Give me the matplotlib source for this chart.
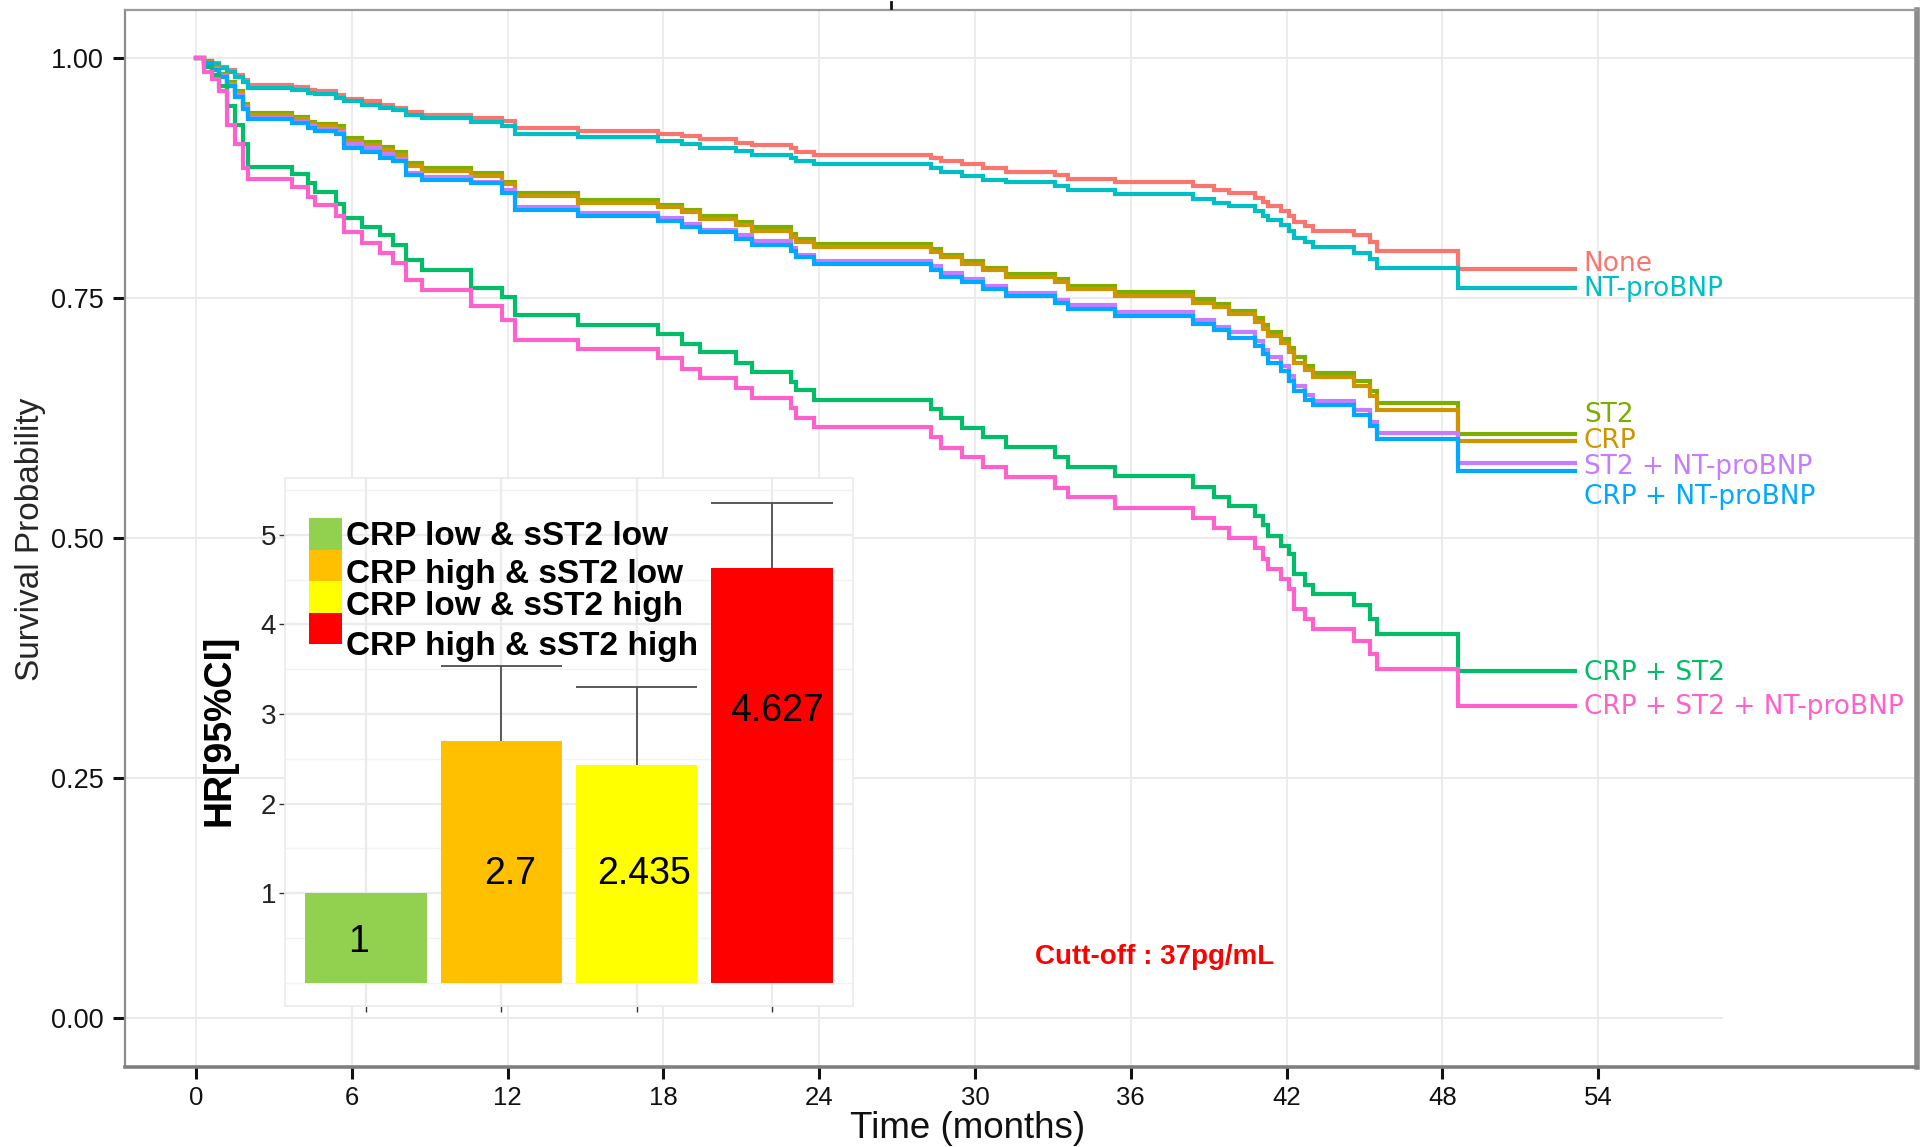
import matplotlib
matplotlib.use("Agg")
import matplotlib.pyplot as plt
from matplotlib.patches import Rectangle
from matplotlib.lines import Line2D

# ---------------------------------------------------------------- data
months = [0, 0.3, 0.6, 0.9, 1.2, 1.5, 1.8, 2.0,
          3.7, 4.3, 4.6, 5.4, 5.7, 6.4, 7.1, 7.6, 8.1, 8.7,
          10.6, 11.8, 12.3, 14.7,
          17.8, 18.7, 19.4, 20.8, 21.4, 22.9, 23.1, 23.8,
          28.3, 28.7, 29.5, 30.3, 31.2, 33.1, 33.6, 35.4,
          38.4, 39.2, 39.8, 40.8, 41.1, 41.3, 41.8, 42.1, 42.3, 42.7, 43.0,
          44.6, 45.2, 45.5, 48.6]
last_month = 53.1

surv_none = [1.0, 0.997, 0.994, 0.990, 0.987, 0.982, 0.977, 0.971,
             0.969, 0.966, 0.965, 0.961, 0.957, 0.955, 0.951, 0.948, 0.943, 0.940,
             0.937, 0.934, 0.927, 0.924,
             0.921, 0.918, 0.915, 0.911, 0.909, 0.906, 0.902, 0.899,
             0.896, 0.892, 0.889, 0.885, 0.881, 0.878, 0.874, 0.870,
             0.866, 0.862, 0.859, 0.854, 0.850, 0.845, 0.840, 0.835, 0.829, 0.825, 0.820,
             0.815, 0.808, 0.799, 0.780]
surv_nt = [1.0, 0.997, 0.993, 0.989, 0.985, 0.980, 0.975, 0.968,
           0.966, 0.963, 0.962, 0.958, 0.955, 0.951, 0.948, 0.945, 0.940, 0.937,
           0.933, 0.929, 0.921, 0.917,
           0.913, 0.910, 0.906, 0.903, 0.899, 0.896, 0.892, 0.889,
           0.885, 0.881, 0.877, 0.873, 0.870, 0.866, 0.862, 0.858,
           0.853, 0.849, 0.845, 0.840, 0.835, 0.831, 0.826, 0.820, 0.812, 0.808, 0.803,
           0.797, 0.790, 0.781, 0.760]
surv_st2 = [1.0, 0.995, 0.990, 0.983, 0.975, 0.965, 0.952, 0.942,
            0.938, 0.933, 0.931, 0.929, 0.916, 0.912, 0.907, 0.902, 0.890, 0.885,
            0.880, 0.871, 0.859, 0.852,
            0.847, 0.841, 0.835, 0.829, 0.824, 0.816, 0.811, 0.806,
            0.801, 0.794, 0.788, 0.781, 0.775, 0.769, 0.762, 0.756,
            0.749, 0.743, 0.736, 0.729, 0.722, 0.714, 0.707, 0.698, 0.688, 0.679, 0.672,
            0.663, 0.653, 0.640, 0.608]
surv_crp = [1.0, 0.995, 0.989, 0.982, 0.973, 0.963, 0.950, 0.940,
            0.936, 0.931, 0.929, 0.926, 0.913, 0.909, 0.904, 0.899, 0.887, 0.882,
            0.877, 0.868, 0.856, 0.849,
            0.844, 0.839, 0.832, 0.826, 0.820, 0.813, 0.808, 0.803,
            0.798, 0.792, 0.785, 0.779, 0.772, 0.766, 0.759, 0.752,
            0.745, 0.740, 0.733, 0.725, 0.717, 0.710, 0.703, 0.693, 0.682, 0.675, 0.667,
            0.658, 0.648, 0.633, 0.601]
surv_st2_nt = [1.0, 0.994, 0.988, 0.981, 0.972, 0.961, 0.948, 0.9375,
               0.933, 0.929, 0.926, 0.923, 0.910, 0.906, 0.900, 0.894, 0.880, 0.876,
               0.871, 0.862, 0.844, 0.838,
               0.833, 0.827, 0.821, 0.815, 0.809, 0.802, 0.795, 0.788,
               0.783, 0.776, 0.769, 0.762, 0.755, 0.748, 0.742, 0.735,
               0.727, 0.720, 0.714, 0.705, 0.696, 0.688, 0.679, 0.668, 0.658, 0.649, 0.642,
               0.633, 0.621, 0.609, 0.578]
surv_crp_nt = [1.0, 0.994, 0.987, 0.980, 0.970, 0.959, 0.946, 0.936,
               0.932, 0.927, 0.924, 0.921, 0.906, 0.902, 0.896, 0.892, 0.878, 0.873,
               0.869, 0.859, 0.841, 0.835,
               0.830, 0.824, 0.818, 0.811, 0.805, 0.799, 0.792, 0.785,
               0.779, 0.772, 0.766, 0.759, 0.752, 0.745, 0.738, 0.731,
               0.723, 0.716, 0.708, 0.700, 0.691, 0.682, 0.674, 0.663, 0.653, 0.644, 0.638,
               0.628, 0.616, 0.603, 0.570]
surv_crp_st2 = [1.0, 0.990, 0.982, 0.970, 0.950, 0.930, 0.910, 0.886,
                0.879, 0.869, 0.860, 0.848, 0.833, 0.824, 0.815, 0.805, 0.789, 0.779,
                0.760, 0.751, 0.732, 0.722,
                0.712, 0.702, 0.693, 0.682, 0.673, 0.662, 0.654, 0.644,
                0.634, 0.625, 0.614, 0.605, 0.595, 0.584, 0.574, 0.564,
                0.553, 0.543, 0.533, 0.523, 0.513, 0.502, 0.492, 0.483, 0.462, 0.451, 0.442,
                0.430, 0.416, 0.400, 0.361]
surv_all = [1.0, 0.985, 0.978, 0.965, 0.930, 0.910, 0.885, 0.874,
            0.865, 0.855, 0.847, 0.835, 0.818, 0.807, 0.797, 0.786, 0.768, 0.758,
            0.741, 0.727, 0.706, 0.697,
            0.687, 0.676, 0.666, 0.656, 0.646, 0.635, 0.625, 0.615,
            0.605, 0.594, 0.584, 0.574, 0.563, 0.552, 0.542, 0.531,
            0.521, 0.510, 0.500, 0.489, 0.478, 0.468, 0.457, 0.447, 0.426, 0.416, 0.405,
            0.393, 0.379, 0.363, 0.325]

curve_names = ["None", "NT-proBNP", "ST2", "CRP", "ST2 + NT-proBNP",
               "CRP + NT-proBNP", "CRP + ST2", "CRP + ST2 + NT-proBNP"]
curve_values = [surv_none, surv_nt, surv_st2, surv_crp, surv_st2_nt,
                surv_crp_nt, surv_crp_st2, surv_all]

x_ticks = [0, 6, 12, 18, 24, 30, 36, 42, 48, 54]
y_ticks = [0.00, 0.25, 0.50, 0.75, 1.00]

hr_groups = ["CRP low & sST2 low", "CRP high & sST2 low",
             "CRP low & sST2 high", "CRP high & sST2 high"]
hr_values = [1, 2.7, 2.435, 4.627]
hr_upper = [1, 3.54, 3.30, 5.36]
hr_ticks = [1, 2, 3, 4, 5]

# ---------------------------------------------------------------- styles
curve_colors = ["#F8766D", "#00BFC4", "#7CAE00", "#CD9600", "#C77CFF",
                "#00A9FF", "#00BE67", "#FF61CC"]
end_label_y = [0.785, 0.759, 0.628, 0.601, 0.574, 0.542, 0.359, 0.324]
bar_colors = ["#92D050", "#FFC000", "#FFFF00", "#FF0000"]
bar_label_dx = [-0.056, 0.064, 0.055, 0.038]
bar_label_y = [0.46, 1.22, 1.22, 3.03]

W, H = 1921, 1147
SANS = ["Liberation Sans", "DejaVu Sans"]
GRID = "#EBEBEB"
FRAME = "#8C8C8C"


def fx(px):
    return px / W


def fy(py):
    return 1 - py / H


fig = plt.figure(figsize=(W / 100, H / 100), dpi=100)
fig.patch.set_facecolor("white")

# ---------------------------------------------------------------- main panel
ax = fig.add_axes([fx(125), fy(1067), fx(1917) - fx(125), fy(10) - fy(1067)])
ax.set_xlim(-2.734, 66.28)
ax.set_ylim(-0.051, 1.0496)

for xv in x_ticks:
    ax.axvline(xv, color=GRID, lw=1.3, zorder=0)
for yv in y_ticks:
    x_end = 58.8 if yv == 0 else 66.28
    ax.hlines(yv, -2.734, x_end, color=GRID, lw=1.5, zorder=0)

for name, vals, col, ly in zip(curve_names, curve_values, curve_colors, end_label_y):
    ax.step(months + [last_month], vals + [vals[-1]], where="post",
            color=col, lw=3.0, zorder=3, solid_joinstyle="miter")
    ax.text(53.45, ly, name, color=col, fontsize=19, family="DejaVu Sans",
            ha="left", va="center", zorder=4)

ax.set_xticks(x_ticks)
ax.set_xticklabels([str(v) for v in x_ticks], family=SANS, fontsize=18.5, color="#111111")
ax.set_yticks(y_ticks)
ax.set_yticklabels([f"{v:.2f}" for v in y_ticks], family=SANS, fontsize=19.5, color="#111111")
ax.tick_params(axis="x", direction="out", length=8.5, width=2.2, color="#111111", pad=5)
ax.tick_params(axis="y", direction="out", length=8.5, width=2.2, color="#111111", pad=7)

ax.spines["left"].set_color(FRAME)
ax.spines["left"].set_linewidth(1.6)
ax.spines["top"].set_color("#9A9A9A")
ax.spines["top"].set_linewidth(1.6)
ax.spines["right"].set_color(FRAME)
ax.spines["right"].set_linewidth(4)
ax.spines["bottom"].set_color("#7F7F7F")
ax.spines["bottom"].set_linewidth(2.6)

fig.text(fx(968), fy(1128), "Time (months)", family=SANS, fontsize=26.5,
         ha="center", va="center", color="#111111")
fig.text(fx(31), fy(539), "Survival Probability", family=SANS, fontsize=24,
         rotation=90, ha="center", va="center", color="#262626")
fig.text(fx(1155), fy(957), "Cutt-off : 37pg/mL", family=SANS, fontsize=20,
         fontweight="bold", color="#FF0000", ha="center", va="center")
fig.add_artist(Line2D([fx(891), fx(891)], [fy(2), fy(8)], color="#111111", lw=2))

# ---------------------------------------------------------------- hazard-ratio inset
ax_in = fig.add_axes([fx(285), fy(1006), fx(853) - fx(285), fy(478) - fy(1006)], zorder=5)
ax_in.set_facecolor("white")
ax_in.set_xlim(0.4, 4.6)
ax_in.set_ylim(-0.258, 5.635)
bar_x = list(range(1, len(hr_values) + 1))

for yv in [0, 0.5, 1.5, 2.5, 3.5, 4.5, 5.5]:
    ax_in.axhline(yv, color="#F2F2F2", lw=1.0, zorder=0)
for yv in hr_ticks:
    ax_in.axhline(yv, color=GRID, lw=1.6, zorder=0)
for xv in bar_x:
    ax_in.axvline(xv, color=GRID, lw=1.6, zorder=0)

# upper confidence whiskers (the reference group has none)
for b, v, up in zip(bar_x, hr_values, hr_upper):
    if up > v:
        ax_in.vlines(b, v, up, color="#4D4D4D", lw=1.3, zorder=2)
        ax_in.hlines(up, b - 0.45, b + 0.45, color="#4D4D4D", lw=1.3, zorder=2)
ax_in.bar(bar_x, hr_values, width=0.9, color=bar_colors, zorder=3)

for b, v, dx, ly in zip(bar_x, hr_values, bar_label_dx, bar_label_y):
    ax_in.text(b + dx, ly, f"{v:g}", family=SANS, fontsize=27,
               ha="center", va="center", color="black", zorder=4)

ax_in.set_xticks(bar_x)
ax_in.set_xticklabels([])
ax_in.set_yticks(hr_ticks)
ax_in.set_yticklabels([str(v) for v in hr_ticks], family=SANS, fontsize=20, color="#222222")
ax_in.tick_params(axis="both", direction="out", length=4.5, width=1.0, color="#333333", pad=2)
for sp in ax_in.spines.values():
    sp.set_color(GRID)
    sp.set_linewidth(1.2)

fig.text(fx(219), fy(730), "HR[95%CI]", family=SANS, fontsize=27, fontweight="bold",
         rotation=90, ha="center", va="center", color="black")

# legend keys and labels
key_tops = [518, 549.5, 581, 612.5]
label_centres = [537, 575, 607, 646]
for col, top, text, ty in zip(bar_colors, key_tops, hr_groups, label_centres):
    fig.add_artist(Rectangle((fx(309), fy(top + 31.5)), fx(33), 31.5 / H,
                             transform=fig.transFigure, facecolor=col,
                             edgecolor="none", zorder=6))
    fig.text(fx(346), fy(ty), text, family=SANS, fontsize=24, fontweight="bold",
             ha="left", va="center", color="black", zorder=7)

fig.savefig("out.png", dpi=100, facecolor="white")
